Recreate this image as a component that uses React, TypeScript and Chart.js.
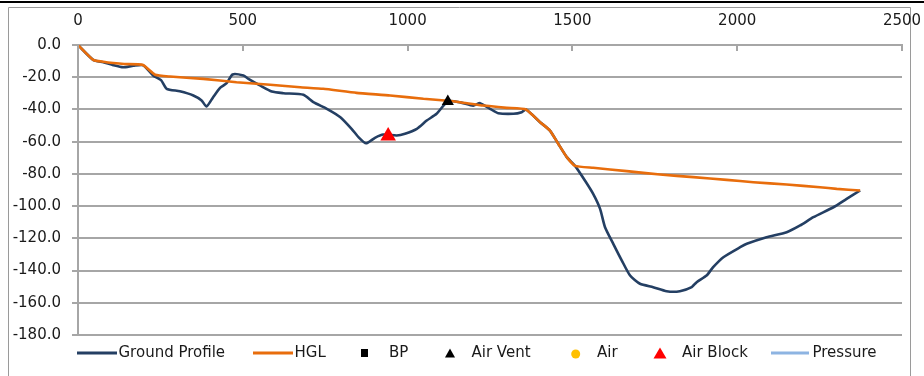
import React, { useEffect, useRef } from "react";
import { Chart, registerables } from "chart.js";

Chart.register(...registerables);

// ---------- data ----------
const xTickValues = [0, 500, 1000, 1500, 2000, 2500];

const groundDist = [
  0, 46, 77, 107, 137, 168, 198, 228, 252, 269, 309, 350, 375, 390, 410, 431, 451, 469, 502, 517,
  552, 588, 623, 684, 714, 755, 796, 830, 851, 874, 901, 926, 967, 992, 1028, 1058, 1088, 1122,
  1160, 1199, 1220, 1250, 1275, 1321, 1346, 1359, 1402, 1432, 1457, 1483, 1508, 1538, 1563, 1584,
  1599, 1624, 1650, 1675, 1705, 1745, 1786, 1826, 1862, 1877, 1907, 1927, 1958, 2009, 2029, 2089,
  2150, 2191, 2231, 2292, 2332, 2373,
];
const groundElev = [
  0, -9.2, -10.7, -12.5, -13.8, -12.9, -12.6, -18.9, -21.8, -27.2, -28.7, -31.3, -34.4, -38.2, -32.4,
  -26.6, -23.7, -18.3, -19.0, -21.0, -25.1, -28.9, -29.9, -30.9, -35.5, -39.6, -44.8, -52.0, -57.2,
  -61.0, -57.6, -55.6, -56.2, -55.1, -52.0, -46.9, -42.7, -35.0, -35.6, -37.6, -36.1, -39.6, -42.3,
  -42.7, -41.7, -40.0, -47.9, -53.1, -61.3, -69.6, -75.0, -84.1, -92.4, -101.7, -113.1, -123.4,
  -133.8, -143.1, -148.2, -150.3, -152.8, -152.8, -150.3, -147.2, -143.1, -137.9, -131.7, -125.5,
  -123.4, -119.3, -116.2, -112.0, -106.9, -100.7, -95.5, -90.3,
];

const hglDist = [
  0, 46, 77, 107, 140, 196, 234, 279, 380, 481, 583, 674, 744, 845, 947, 1048, 1122, 1159, 1230,
  1301, 1359, 1402, 1432, 1457, 1483, 1508, 1563, 1665, 1766, 1867, 1968, 2049, 2150, 2251, 2302,
  2373,
];
const hglElev = [
  0, -9.2, -10.4, -11.2, -11.8, -12.3, -18.5, -19.6, -21.0, -23.1, -24.7, -26.2, -27.2, -29.7, -31.3,
  -33.4, -34.6, -35.5, -37.6, -39.0, -40.0, -47.9, -53.1, -61.3, -69.6, -75.0, -76.2, -78.3, -80.4,
  -82.0, -83.7, -85.2, -86.6, -88.3, -89.3, -90.3,
];

const bpDist: number[] = [];
const bpElev: number[] = [];
const airVentDist = [1122];
const airVentElev = [-35.1];
const airDist: number[] = [];
const airElev: number[] = [];
const airBlockDist = [941];
const airBlockElev = [-56.5];
const pressureDist: number[] = [];
const pressureElev: number[] = [];

const seriesNames = ["Ground Profile", "HGL", "BP", "Air Vent", "Air", "Air Block", "Pressure"];

// ---------- styles ----------
const NAVY = "#243f63";
const ORANGE = "#e86d0c";
const GRID = "#a6a6a6";
const YELLOW = "#ffc000";
const RED = "#ff0000";
const LIGHTBLUE = "#8db4e2";
const FONT = "'DejaVu Sans', sans-serif";

const toPts = (xs: number[], ys: number[]) => xs.map((x, i) => ({ x, y: ys[i] }));

const framePlugin = {
  id: "frame",
  beforeDraw(chart: any) {
    const ctx = chart.ctx;
    ctx.save();
    ctx.fillStyle = "#ffffff";
    ctx.fillRect(0, 0, chart.width, chart.height);
    ctx.strokeStyle = "#000000";
    ctx.lineWidth = 2;
    ctx.beginPath();
    ctx.moveTo(0, 2);
    ctx.lineTo(chart.width, 2);
    ctx.stroke();
    ctx.strokeStyle = "#9a9a9a";
    ctx.lineWidth = 1;
    ctx.beginPath();
    ctx.moveTo(8.5, chart.height);
    ctx.lineTo(8.5, 7.5);
    ctx.lineTo(910.5, 7.5);
    ctx.lineTo(910.5, chart.height);
    ctx.stroke();
    ctx.restore();
  },
};

const innerTicksPlugin = {
  id: "innerTicks",
  afterDraw(chart: any) {
    const ctx = chart.ctx;
    const xs = chart.scales.x;
    const top = chart.chartArea.top;
    ctx.save();
    ctx.strokeStyle = GRID;
    ctx.lineWidth = 2;
    xTickValues.forEach((v) => {
      const px = Math.round(xs.getPixelForValue(v));
      ctx.beginPath();
      ctx.moveTo(px, top);
      ctx.lineTo(px, top + 6);
      ctx.stroke();
    });
    ctx.restore();
  },
};

const legendPlugin = {
  id: "customLegend",
  afterDraw(chart: any) {
    const ctx = chart.ctx;
    const y = 353;
    ctx.save();
    ctx.font = `15px ${FONT}`;
    ctx.textBaseline = "middle";
    ctx.textAlign = "left";

    const line = (x0: number, x1: number, color: string, w: number) => {
      ctx.strokeStyle = color;
      ctx.lineWidth = w;
      ctx.beginPath();
      ctx.moveTo(x0, y);
      ctx.lineTo(x1, y);
      ctx.stroke();
    };
    const tri = (cx: number, color: string, hw: number, h: number) => {
      ctx.fillStyle = color;
      ctx.beginPath();
      ctx.moveTo(cx, y - h / 2);
      ctx.lineTo(cx + hw, y + h / 2);
      ctx.lineTo(cx - hw, y + h / 2);
      ctx.closePath();
      ctx.fill();
    };
    const text = (s: string, x: number) => {
      ctx.fillStyle = "#1a1a1a";
      ctx.fillText(s, x, y);
    };

    line(77, 117, NAVY, 3);
    text(seriesNames[0], 118.5);
    line(253, 293, ORANGE, 3);
    text(seriesNames[1], 294.5);
    ctx.fillStyle = "#000000";
    ctx.fillRect(361, 349, 7, 8);
    text(seriesNames[2], 389);
    tri(450, "#000000", 5, 9);
    text(seriesNames[3], 471.5);
    ctx.fillStyle = YELLOW;
    ctx.beginPath();
    ctx.arc(575.7, y + 1, 4.5, 0, Math.PI * 2);
    ctx.fill();
    text(seriesNames[4], 597);
    tri(660, RED, 6.5, 11);
    text(seriesNames[5], 682);
    line(771, 809, LIGHTBLUE, 3);
    text(seriesNames[6], 812.5);
    ctx.restore();
  },
};

export default function App() {
  const canvasRef = useRef<HTMLCanvasElement | null>(null);

  useEffect(() => {
    if (!canvasRef.current) return;
    const chart = new Chart(canvasRef.current, {
      type: "scatter",
      data: {
        datasets: [
          {
            label: seriesNames[0],
            data: toPts(groundDist, groundElev),
            showLine: true,
            borderColor: NAVY,
            borderWidth: 2.6,
            pointRadius: 0,
            tension: 0.2,
            order: 2,
          },
          {
            label: seriesNames[1],
            data: toPts(hglDist, hglElev),
            showLine: true,
            borderColor: ORANGE,
            borderWidth: 2.6,
            pointRadius: 0,
            tension: 0.15,
            order: 1,
          },
          {
            label: seriesNames[2],
            data: toPts(bpDist, bpElev),
            pointStyle: "rect",
            backgroundColor: "#000000",
            pointRadius: 5,
          },
          {
            label: seriesNames[3],
            data: toPts(airVentDist, airVentElev),
            pointStyle: "triangle",
            backgroundColor: "#000000",
            borderColor: "#000000",
            borderWidth: 0,
            pointRadius: 7,
            order: 0,
          },
          {
            label: seriesNames[4],
            data: toPts(airDist, airElev),
            pointStyle: "circle",
            backgroundColor: YELLOW,
            pointRadius: 5,
          },
          {
            label: seriesNames[5],
            data: toPts(airBlockDist, airBlockElev),
            pointStyle: "triangle",
            backgroundColor: RED,
            borderColor: RED,
            borderWidth: 0,
            pointRadius: 9,
            order: 0,
          },
          {
            label: seriesNames[6],
            data: toPts(pressureDist, pressureElev),
            showLine: true,
            borderColor: LIGHTBLUE,
            borderWidth: 3,
            pointRadius: 0,
          },
        ],
      },
      options: {
        animation: false,
        responsive: false,
        maintainAspectRatio: false,
        layout: { padding: { left: 0, right: 0, top: 0, bottom: 41 } },
        plugins: {
          legend: { display: false },
          tooltip: { enabled: false },
        },
        scales: {
          x: {
            type: "linear",
            position: "top",
            min: 0,
            max: 2500,
            ticks: {
              stepSize: 500,
              padding: 15,
              color: "#1a1a1a",
              font: { family: FONT, size: 15 },
              maxRotation: 0,
              callback: (v: any) => String(v),
            },
            grid: { display: false, drawTicks: false },
            border: { display: true, color: GRID, width: 2 },
            afterFit: (s: any) => {
              s.height = 45;
              s.paddingLeft = 0;
              s.paddingRight = 22;
            },
          },
          y: {
            type: "linear",
            min: -180,
            max: 0,
            ticks: {
              stepSize: 20,
              padding: 11,
              color: "#1a1a1a",
              font: { family: FONT, size: 15 },
              callback: (v: any) => Number(v).toFixed(1),
            },
            grid: { color: GRID, lineWidth: 2, tickLength: 6, drawTicks: true },
            border: { display: true, color: GRID, width: 2 },
            afterFit: (s: any) => {
              s.width = 78;
              s.paddingTop = 0;
              s.paddingBottom = 0;
            },
          },
        },
      },
      plugins: [framePlugin, innerTicksPlugin, legendPlugin],
    } as any);
    return () => chart.destroy();
  }, []);

  return (
    <div style={{ position: "fixed", left: 0, top: 0, width: 924, height: 376, background: "#fff" }}>
      <canvas ref={canvasRef} width={924} height={376} style={{ width: 924, height: 376, display: "block" }} />
    </div>
  );
}
